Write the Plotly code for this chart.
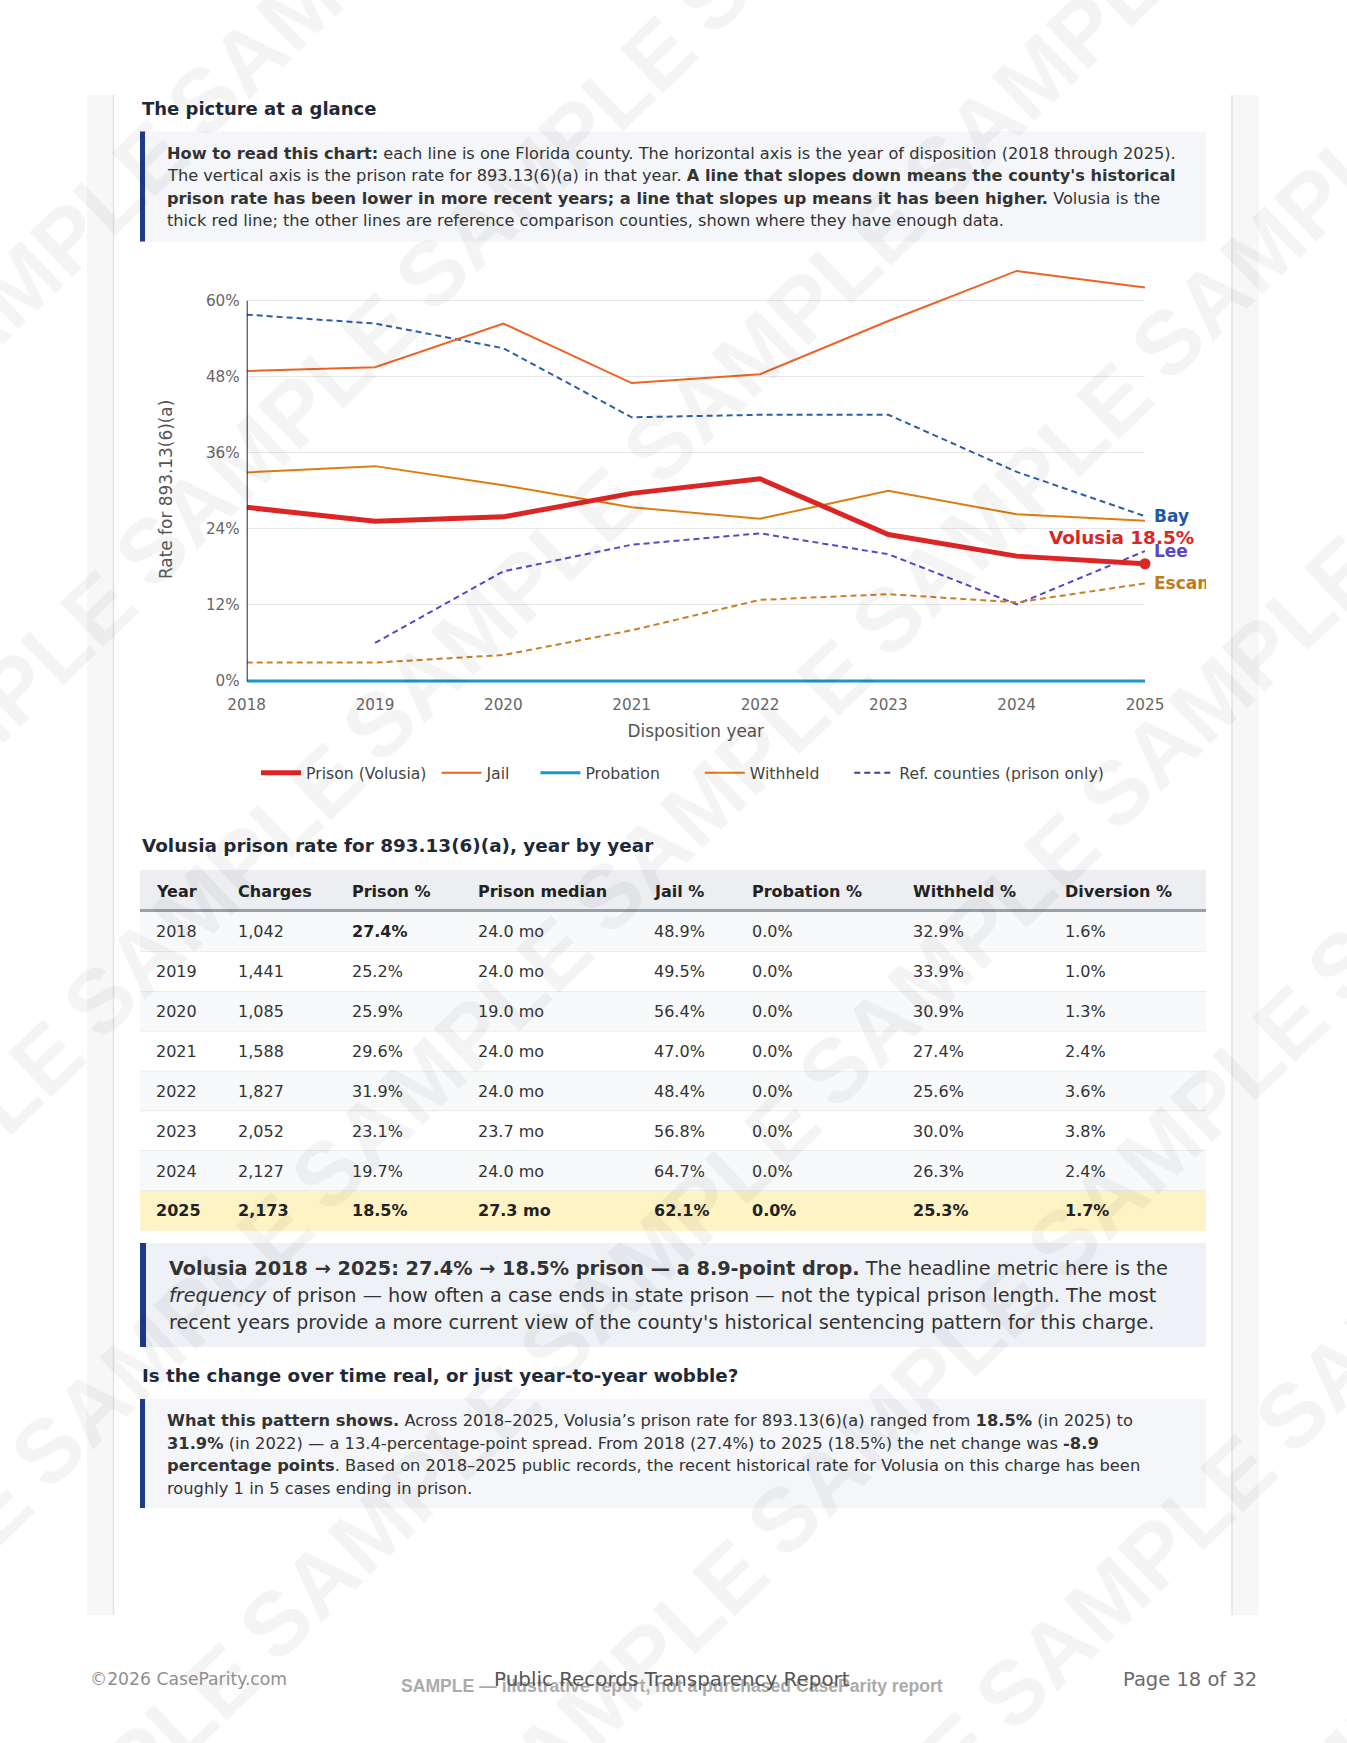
import plotly.graph_objects as go

W, H = 1347, 1743

# ---------------- data ----------------
years = [2018, 2019, 2020, 2021, 2022, 2023, 2024, 2025]
charges = [1042, 1441, 1085, 1588, 1827, 2052, 2127, 2173]
prison_pct = [27.4, 25.2, 25.9, 29.6, 31.9, 23.1, 19.7, 18.5]
prison_median = [24.0, 24.0, 19.0, 24.0, 24.0, 23.7, 24.0, 27.3]
jail_pct = [48.9, 49.5, 56.4, 47.0, 48.4, 56.8, 64.7, 62.1]
probation_pct = [0.0, 0.0, 0.0, 0.0, 0.0, 0.0, 0.0, 0.0]
withheld_pct = [32.9, 33.9, 30.9, 27.4, 25.6, 30.0, 26.3, 25.3]
diversion_pct = [1.6, 1.0, 1.3, 2.4, 3.6, 3.8, 2.4, 1.7]

bay_years = [2018, 2019, 2020, 2021, 2022, 2023, 2024, 2025]
bay_pct = [57.8, 56.4, 52.5, 41.6, 42.0, 42.0, 33.0, 26.0]
lee_years = [2019, 2020, 2021, 2022, 2023, 2024, 2025]
lee_pct = [6.0, 17.3, 21.5, 23.3, 20.0, 12.1, 20.5]
esc_years = [2018, 2019, 2020, 2021, 2022, 2023, 2024, 2025]
esc_pct = [2.9, 2.9, 4.1, 8.0, 12.8, 13.7, 12.4, 15.4]

y_ticks = [0, 12, 24, 36, 48, 60]
table_headers = ["Year", "Charges", "Prison %", "Prison median", "Jail %",
                 "Probation %", "Withheld %", "Diversion %"]

FONT = "DejaVu Sans"
TXT = "#333333"
HEAD = "#1f2937"
NAVY = "#1e3a8a"
NB = "\u00a0"


def X(px):
    return px / W


def Y(py):
    return 1 - py / H


shapes = []
annots = []


def rect(x0, y0, x1, y1, fill, layer="below"):
    shapes.append(dict(type="rect", xref="paper", yref="paper",
                       x0=X(x0), x1=X(x1), y0=Y(y1), y1=Y(y0),
                       fillcolor=fill, line=dict(width=0), layer=layer))


def hline(x0, x1, y, color, width):
    shapes.append(dict(type="line", xref="paper", yref="paper",
                       x0=X(x0), x1=X(x1), y0=Y(y), y1=Y(y),
                       line=dict(color=color, width=width), layer="below"))


def vline(x, y0, y1, color, width):
    shapes.append(dict(type="line", xref="paper", yref="paper",
                       x0=X(x), x1=X(x), y0=Y(y0), y1=Y(y1),
                       line=dict(color=color, width=width), layer="below"))


def text(x, y, s, size=15, color=TXT, anchor="left", family=FONT, **kw):
    annots.append(dict(xref="paper", yref="paper", x=X(x), y=Y(y), text=s,
                       showarrow=False, xanchor=anchor, yanchor="middle",
                       font=dict(family=family, size=size, color=color), **kw))


# ---------------- watermark (drawn first, faint) ----------------
for m in range(-3, 5):
    for n in range(-5, 13):
        cx = 265 + m * 508 + n * 228
        cy = 441 - m * 104 + n * 173
        if -250 < cx < W + 250 and -250 < cy < H + 250:
            annots.append(dict(xref="paper", yref="paper", x=X(cx), y=Y(cy), text="<b>SAMPLE</b>",
                               showarrow=False, textangle=-44, xanchor="center", yanchor="middle",
                               font=dict(family="Liberation Sans", size=90,
                                         color="rgba(0,0,0,0.042)")))

# ---------------- page panel ----------------
rect(87, 95, 114, 1615, "#f7f7f7")
vline(113.5, 95, 1615, "#e2e2e2", 1.5)
rect(1232, 95, 1259, 1615, "#f7f7f7")
vline(1232, 95, 1615, "#e2e2e2", 1.5)

# ---------------- heading + info box 1 ----------------
text(140, 108.5, "<b>The picture at a glance</b>", size=18, color=HEAD)
rect(140, 131.5, 1206, 241.5, "#f4f6f9")
rect(140, 131.5, 145, 241.5, NAVY)
box1 = [
    "<b>How to read this chart:</b> each line is one Florida county. The horizontal axis is the year of disposition (2018 through 2025).",
    "The vertical axis is the prison rate for 893.13(6)(a) in that year. <b>A line that slopes down means the county's historical</b>",
    "<b>prison rate has been lower in more recent years; a line that slopes up means it has been higher.</b> Volusia is the",
    "thick red line; the other lines are reference comparison counties, shown where they have enough data.",
]
for k, s in enumerate(box1):
    text(164.5, 153.6 + k * 22.2, s, size=16.2)

# ---------------- chart ----------------
fig = go.Figure()

ref_style = dict(width=2, dash="6px,4px")
fig.add_trace(go.Scatter(x=bay_years, y=bay_pct, mode="lines", showlegend=False,
                         line=dict(color="#2b5ea7", **ref_style), hoverinfo="skip"))
fig.add_trace(go.Scatter(x=lee_years, y=lee_pct, mode="lines", showlegend=False,
                         line=dict(color="#5b46c6", **ref_style), hoverinfo="skip"))
fig.add_trace(go.Scatter(x=esc_years, y=esc_pct, mode="lines", showlegend=False,
                         line=dict(color="#c98021", **ref_style), hoverinfo="skip"))
fig.add_trace(go.Scatter(x=years, y=jail_pct, mode="lines", name="Jail" + NB * 4, legendrank=2,
                         line=dict(color="#ef6226", width=2)))
fig.add_trace(go.Scatter(x=years, y=probation_pct, mode="lines", name="Probation" + NB * 7,
                         legendrank=3, line=dict(color="#1c98c6", width=3), cliponaxis=False))
fig.add_trace(go.Scatter(x=years, y=withheld_pct, mode="lines", name="Withheld" + NB * 5,
                         legendrank=4, line=dict(color="#dc7d10", width=2)))
fig.add_trace(go.Scatter(x=[None], y=[None], mode="lines", name="Ref. counties (prison only)",
                         legendrank=5, line=dict(color="#3a3f8f", **ref_style)))
fig.add_trace(go.Scatter(x=years, y=prison_pct, mode="lines", name="Prison (Volusia)" + NB,
                         legendrank=1, line=dict(color="#dc2626", width=5)))
fig.add_trace(go.Scatter(x=[years[-1]], y=[prison_pct[-1]], mode="markers", showlegend=False,
                         marker=dict(color="#dc2626", size=11), cliponaxis=False))

# y axis line (0..60)
shapes.append(dict(type="line", xref="x", yref="y", x0=years[0], x1=years[0],
                   y0=y_ticks[0], y1=y_ticks[-1], line=dict(color="#1f2937", width=2),
                   layer="above"))


def end_label(yv, s, color, size=17, xshift=7, yshift=0, xanchor="left", **kw):
    annots.append(dict(xref="x", yref="y", x=years[-1], y=yv, text=f"<b>{s}</b>",
                       showarrow=False, xanchor=xanchor, yanchor="middle",
                       xshift=xshift, yshift=yshift,
                       font=dict(family=FONT, size=size, color=color), **kw))


end_label(bay_pct[-1], "Bay", "#1f5aa6")
end_label(lee_pct[-1], "Lee", "#5b46c6")
end_label(esc_pct[-1], "Escambia", "#c27a1c", width=52, align="left")
end_label(prison_pct[-1], f"Volusia {prison_pct[-1]:.1f}%", "#dc2626", size=18.4,
          xshift=-24, yshift=26, xanchor="center")

# y title
annots.append(dict(xref="paper", yref="paper", x=X(166), y=Y(490), text="Rate for 893.13(6)(a)",
                   showarrow=False, textangle=-90, xanchor="center", yanchor="middle",
                   font=dict(family=FONT, size=16.9, color="#555555")))

# ---------------- table ----------------
text(140, 846, "<b>Volusia prison rate for 893.13(6)(a), year by year</b>", size=18.4, color=HEAD)
col_x = [154, 236, 349.5, 475.5, 651.5, 750.5, 910.5, 1063]
rect(140, 870, 1206, 910, "#eceef1")
hline(140, 1206, 910.5, "#9aa0a8", 3)
for c, hname in enumerate(table_headers):
    text(col_x[c], 891, f"<b>{hname}</b>", size=16, color="#222222")

row_h = 39.85
for i, yr in enumerate(years):
    top = 912 + i * row_h
    last = i == len(years) - 1
    fill = "#fdf3c4" if last else ("#f8f9fa" if i % 2 == 0 else "#ffffff")
    rect(140, top, 1206, top + row_h, fill)
    if not last:
        hline(140, 1206, top + row_h, "#e4e6e9", 1.5)
    cells = [f"{yr}", f"{charges[i]:,}", f"{prison_pct[i]:.1f}%", f"{prison_median[i]:.1f} mo",
             f"{jail_pct[i]:.1f}%", f"{probation_pct[i]:.1f}%", f"{withheld_pct[i]:.1f}%",
             f"{diversion_pct[i]:.1f}%"]
    for c, s in enumerate(cells):
        bold = last or (i == 0 and c == 2)
        text(col_x[c], top + row_h / 2, f"<b>{s}</b>" if bold else s, size=16,
             color="#222222" if bold else TXT)

# ---------------- box 2 ----------------
rect(140, 1243, 1206, 1347, "#eef2f7")
rect(140, 1243, 146, 1347, NAVY)
box2 = [
    "<b>Volusia 2018 → 2025: 27.4% → 18.5% prison — a 8.9-point drop.</b> The headline metric here is the",
    "<i>frequency</i> of prison — how often a case ends in state prison — not the typical prison length. The most",
    "recent years provide a more current view of the county's historical sentencing pattern for this charge.",
]
for k, s in enumerate(box2):
    text(167, 1268.5 + k * 27, s, size=19.3)

# ---------------- heading + box 3 ----------------
text(140, 1375, "<b>Is the change over time real, or just year-to-year wobble?</b>", size=18.3, color=HEAD)
rect(140, 1399, 1206, 1508, "#f4f6f9")
rect(140, 1399, 145, 1508, NAVY)
box3 = [
    "<b>What this pattern shows.</b> Across 2018–2025, Volusia’s prison rate for 893.13(6)(a) ranged from <b>18.5%</b> (in 2025) to",
    "<b>31.9%</b> (in 2022) — a 13.4-percentage-point spread. From 2018 (27.4%) to 2025 (18.5%) the net change was <b>-8.9</b>",
    "<b>percentage points</b>. Based on 2018–2025 public records, the recent historical rate for Volusia on this charge has been",
    "roughly 1 in 5 cases ending in prison.",
]
for k, s in enumerate(box3):
    text(164.5, 1420.5 + k * 22.6, s, size=16.3)

# ---------------- footer ----------------
text(88, 1679, "©2026 CaseParity.com", size=17.2, color="#8f8f8f")
text(672, 1686, "<b>SAMPLE — illustrative report, not a purchased CaseParity report</b>", size=17.6,
     color="#ababab", anchor="center", family="Liberation Sans")
text(672, 1679, "Public Records Transparency Report", size=19.9, color="#555555", anchor="center")
text(1259, 1679, "Page 18 of 32", size=19.5, color="#6b6b6b", anchor="right")

# ---------------- layout ----------------
px_per = (681 - 300.7) / 60.0
y_lo, y_hi = -0.4, 66
bottom_px = 681 - y_lo * px_per
top_px = 681 - y_hi * px_per

fig.update_layout(
    width=W, height=H,
    margin=dict(l=0, r=0, t=0, b=0, autoexpand=False),
    paper_bgcolor="#ffffff",
    plot_bgcolor="rgba(0,0,0,0)",
    font=dict(family=FONT, color=TXT),
    showlegend=True,
    legend=dict(orientation="h", x=X(256), xanchor="left", y=Y(773), yanchor="middle",
                font=dict(family=FONT, size=15.7, color="#444444"), itemwidth=40,
                bgcolor="rgba(0,0,0,0)"),
    xaxis=dict(domain=[X(246.7), X(1145)], range=[years[0], years[-1]], tickvals=years,
               showgrid=False, zeroline=False, showline=False, ticks="", automargin=False,
               tickfont=dict(family=FONT, size=15.2, color="#666666"), ticklabelstandoff=10,
               title=dict(text="Disposition year", font=dict(family=FONT, size=16.9, color="#555555"),
                          standoff=12)),
    yaxis=dict(domain=[Y(bottom_px), Y(top_px)], range=[y_lo, y_hi], tickvals=y_ticks,
               ticktext=[f"{v}%" for v in y_ticks], showgrid=True, gridcolor="#e8e8e8",
               gridwidth=1, zeroline=False, showline=False, ticks="", automargin=False,
               tickfont=dict(family=FONT, size=15.2, color="#666666"), ticklabelstandoff=6),
    shapes=shapes,
    annotations=annots,
)

fig.write_html("out.html")
